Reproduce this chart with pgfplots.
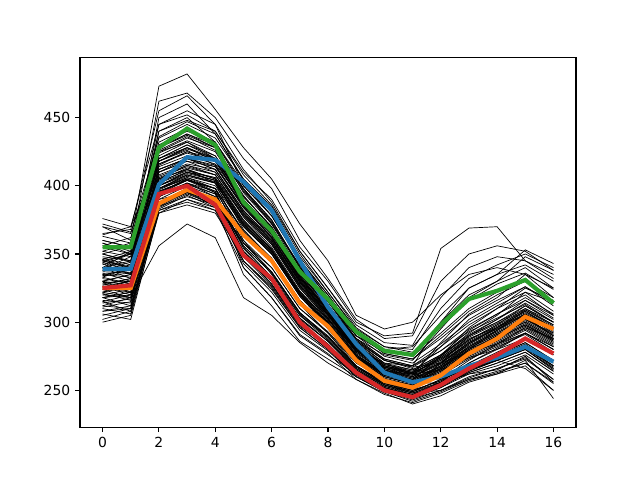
\documentclass[border=0pt]{standalone}
\usepackage{pgfplots}
\usepackage{pgfplotstable}
\pgfplotsset{compat=1.18}
\usepackage{fontspec}
\setmainfont{DejaVu Sans}
\definecolor{tabblue}{HTML}{1F77B4}
\definecolor{taborange}{HTML}{FF7F0E}
\definecolor{tabgreen}{HTML}{2CA02C}
\definecolor{tabred}{HTML}{D62728}
\pgfplotstableread[header=false]{
370 360 473 482 456 428 405 372 345 305 295 300 320 335 340 335 318
350 345 440 448 440 410 390 355 330 300 290 292 354 369 370 345 335
360 355 462 468 450 420 398 360 332 302 288 290 330 350 356 352 338
365 368 455 466 445 412 388 352 325 298 285 283 318 340 348 345 332
345 340 450 460 438 405 385 350 322 295 282 280 310 332 342 350 340
358 350 445 455 445 400 378 345 318 290 280 282 305 325 335 353 343
340 352 440 450 432 398 372 342 315 290 278 276 300 320 330 340 325
335 338 410 418 410 380 360 328 305 278 264 258 268 282 292 303 291
322 326 398 408 402 360 335 305 287 266 254 249 258 270 280 292 280
348 345 420 428 418 392 370 336 312 285 270 265 276 290 300 310 298
312 318 392 402 392 352 330 300 283 263 252 247 255 266 275 284 270
340 332 415 425 420 388 366 333 308 281 266 262 274 288 296 306 293
355 350 425 435 428 398 375 340 316 288 273 268 282 298 310 320 305
330 335 405 412 405 372 352 320 299 274 261 256 264 275 284 294 282
318 322 395 405 396 350 328 298 282 262 251 246 254 264 272 280 266
345 340 412 420 415 385 362 330 306 280 267 262 270 285 295 305 295
325 330 402 410 404 375 353 322 300 275 262 257 266 279 288 298 287
338 342 418 426 415 384 363 330 306 279 265 260 270 284 294 304 290
308 312 388 398 388 345 325 296 280 261 250 244 250 260 266 274 258
352 348 428 438 430 395 372 338 313 286 270 262 265 274 280 288 276
332 328 400 410 406 378 357 325 302 276 263 258 266 280 290 300 288
315 320 396 404 395 355 333 303 286 265 253 248 256 266 274 282 268
342 350 422 432 422 390 368 334 310 283 268 263 272 287 298 312 300
328 325 398 406 400 370 350 319 297 272 259 254 262 274 283 292 280
360 355 430 440 432 400 378 345 320 292 277 273 290 308 320 330 315
305 310 385 395 385 343 322 294 279 260 249 242 249 258 264 270 255
337 336 408 416 412 382 361 329 305 279 265 259 268 281 291 301 289
324 318 394 404 398 358 337 307 289 267 255 250 257 268 276 285 272
346 352 424 433 425 393 369 335 311 284 269 264 274 289 299 309 297
316 314 390 400 392 352 330 300 284 264 253 247 254 265 272 281 267
333 340 412 420 414 384 362 329 306 280 266 261 270 283 293 303 290
350 344 418 427 420 390 367 334 309 283 269 265 276 291 302 314 302
320 324 400 408 403 371 350 319 297 273 260 255 263 276 285 295 283
340 345 426 436 426 396 373 340 315 287 272 267 270 278 284 292 280
310 306 384 394 386 348 327 298 282 262 251 245 252 262 268 276 262
344 338 410 418 414 386 364 331 307 281 267 263 273 287 297 307 296
327 332 406 414 408 377 355 323 301 276 263 258 267 280 289 299 287
370 365 435 445 435 405 382 348 322 294 279 275 292 310 322 330 318
300 305 380 390 382 340 318 291 277 258 247 241 248 257 263 270 256
336 330 404 413 408 379 358 326 303 277 264 259 267 281 291 300 288
322 328 402 412 405 374 353 321 299 274 261 256 265 278 288 298 286
352 358 432 442 432 402 378 344 318 290 275 270 284 300 312 322 308
314 317 392 402 394 354 333 303 286 265 254 248 255 265 272 280 266
343 335 414 422 416 388 365 332 308 282 268 263 272 286 296 306 294
329 330 398 407 402 372 351 320 298 273 260 255 264 277 286 296 284
356 362 428 437 428 397 374 340 315 287 272 267 279 295 306 316 303
318 320 397 406 398 358 337 307 289 268 256 250 257 268 276 285 272
338 344 420 430 420 389 367 333 309 283 268 263 273 287 298 308 295
326 320 395 404 398 367 347 316 295 271 258 253 261 273 282 291 278
347 342 416 425 418 388 366 333 309 282 268 264 275 290 300 312 300
311 315 388 398 390 350 330 300 284 263 252 246 253 263 270 278 264
334 336 407 415 410 381 359 327 304 278 264 260 269 282 292 302 290
363 358 436 447 438 404 380 346 320 292 277 273 288 305 316 326 312
321 316 392 401 394 356 336 306 288 267 255 249 256 266 273 281 268
339 348 416 424 418 387 365 331 307 281 267 262 271 285 295 305 292
330 327 403 411 406 375 354 322 300 275 262 257 266 279 288 298 286
302 308 383 393 384 345 324 296 280 260 249 243 250 259 266 273 258
376 370 445 452 440 408 386 352 325 296 282 278 296 316 328 336 324
344 350 428 438 428 398 375 341 316 288 273 268 279 293 303 313 300
308 310 386 396 390 350 328 299 283 263 252 246 253 263 270 278 264
333 328 400 409 404 373 352 321 299 274 261 256 265 278 287 297 285
330 335 405 415 408 378 357 325 302 280 270 268 300 325 335 342 330
340 338 418 428 420 390 368 335 312 288 276 272 295 318 330 348 338
325 322 398 408 402 370 350 320 298 275 264 262 285 306 318 335 325
318 322 396 404 398 366 346 316 296 274 262 258 275 292 305 322 315
345 350 420 430 422 392 370 336 312 286 272 266 260 268 272 266 250
322 318 394 402 396 364 344 313 292 268 254 248 250 258 262 272 244
335 333 410 420 412 382 360 327 303 276 262 256 255 262 265 275 256
320 318 356 372 362 318 305 285 270 258 248 240 246 256 262 268 250
328 332 398 405 395 340 318 290 276 262 252 246 255 268 278 288 276
312 310 388 396 385 335 312 286 273 260 250 244 252 264 272 282 268
372 366 425 432 420 390 365 332 308 280 266 260 270 285 296 308 296
364 370 418 428 418 386 362 330 306 279 265 261 276 294 306 318 306
330 322 382 388 382 352 333 305 289 268 256 251 262 278 290 302 292
318 312 380 386 380 348 330 302 286 266 254 249 258 272 284 296 288
340 336 385 392 386 360 340 310 292 270 258 254 266 282 294 306 296
326 330 390 395 388 358 340 310 293 271 258 253 270 290 302 316 305
350 356 405 412 402 372 352 322 302 279 267 263 282 302 314 326 314
334 340 400 410 404 368 346 316 296 274 262 258 275 296 310 325 316
306 302 382 390 384 345 326 297 282 262 251 246 256 270 281 292 282
346 340 395 405 398 366 345 315 296 273 260 255 268 284 296 310 300
358 352 412 420 412 380 358 327 305 280 267 262 258 266 272 280 265
315 308 386 395 390 356 336 307 290 268 255 250 262 280 294 309 298
}\rawdata
\pgfplotstabletranspose{\linedata}{\rawdata}
\begin{document}
\begin{tikzpicture}
\begin{axis}[
  at={(0,0)}, anchor=south west,
  scale only axis, width=357.12pt, height=266.11pt,
  xmin=-0.8, xmax=16.8, ymin=223, ymax=494,
  xtick={0,2,...,16}, ytick={250,300,...,450},
  tick align=outside, tick pos=left,
  major tick length=3.5pt,
  every tick/.style={black, line width=0.8pt},
  axis line style={line width=0.8pt},
  tick label style={font=\fontsize{10}{12}\selectfont},
  /pgf/number format/assume math mode=true,
]
\pgfplotsinvokeforeach{1,...,83}{
  \addplot[black, line width=0.5pt, mark=none] table[x expr=\coordindex, y index=#1] {\linedata};
}
\addplot[tabblue, line width=3pt, mark=none] coordinates {
(0,339)(1,339)(2,401)(3,421)(4,419)(5,403)(6,382)(7,345)(8,311)(9,284)(10,263)(11,256)(12,260)(13,268)(14,274)(15,282)(16,271)};
\addplot[taborange, line width=3pt, mark=none] coordinates {
(0,325)(1,325)(2,387)(3,397)(4,390)(5,364)(6,345)(7,314)(8,297)(9,272)(10,257)(11,252)(12,261)(13,277)(14,288)(15,304)(16,295)};
\addplot[tabgreen, line width=3pt, mark=none] coordinates {
(0,355)(1,355)(2,428)(3,442)(4,430)(5,388)(6,367)(7,337)(8,317)(9,293)(10,279)(11,276)(12,298)(13,317)(14,323)(15,331)(16,314)};
\addplot[tabred, line width=3pt, mark=none] coordinates {
(0,325)(1,327)(2,394)(3,400)(4,386)(5,349)(6,332)(7,300)(8,282)(9,263)(10,250)(11,245)(12,254)(13,266)(14,276)(15,288)(16,277)};
\end{axis}
\path (-57.6pt,-38.02pt) rectangle (403.2pt,307.58pt);
\end{tikzpicture}
\end{document}
